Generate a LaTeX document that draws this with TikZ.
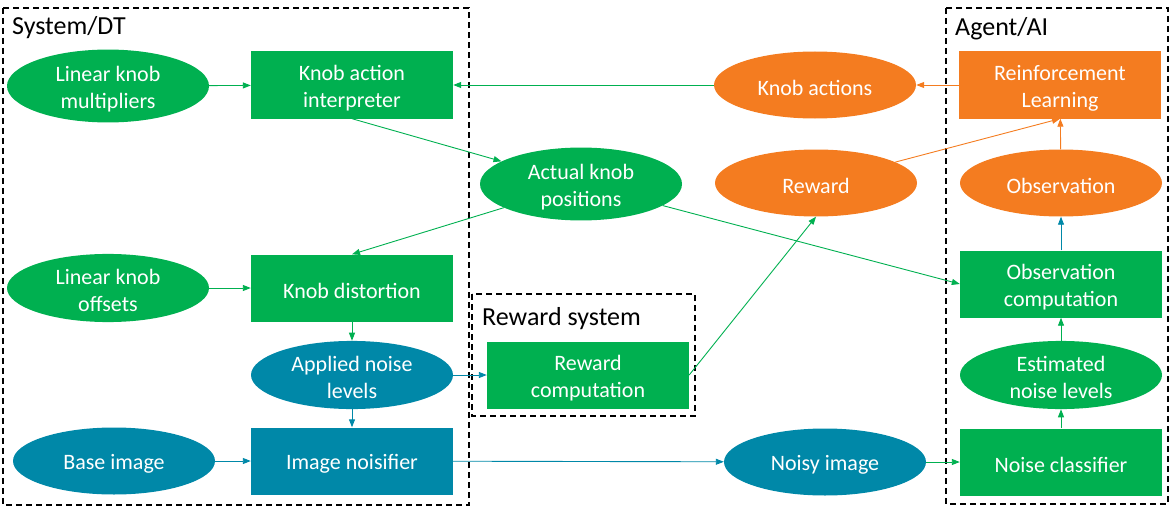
\documentclass[tikz,border=0pt]{standalone}
\usepackage{fontspec}
\setmainfont{Carlito}
\usetikzlibrary{shapes.geometric,arrows.meta}
\definecolor{cgreen}{RGB}{0,176,80}
\definecolor{corange}{RGB}{244,124,32}
\definecolor{cteal}{RGB}{0,136,168}
\newcommand\tupstrut{\rule{0pt}{21pt}}
\tikzset{
  base/.style={inner sep=0pt, text=white, align=center, font=\fontsize{22}{27}\selectfont, minimum width=202pt, minimum height=67pt},
  ell/.style={base, ellipse},
  box/.style={base, rectangle},
  gfill/.style={fill=cgreen},
  ofill/.style={fill=corange},
  tfill/.style={fill=cteal},
  conn/.style={line width=0.9pt, -{Triangle[length=8pt,width=6pt]}},
  gline/.style={conn, draw=cgreen},
  oline/.style={conn, draw=corange},
  tline/.style={conn, draw=cteal},
  group/.style={draw=black, line width=1.6pt, dash pattern=on 6pt off 4pt},
  gtitle/.style={anchor=base west, inner sep=0pt, font=\fontsize{26}{30}\selectfont}
}
\begin{document}
\begin{tikzpicture}[x=1pt,y=-1pt]
\useasboundingbox (0,0) rectangle (1175,511);
% group boxes
\draw[group] (3,8) rectangle (469,505);
\draw[group] (946,8) rectangle (1168,504);
\draw[group] (472,294) rectangle (695,416);
\node[gtitle] (tsys) at (12,35) {System/DT};
\node[gtitle] (tag) at (955,36) {Agent/AI};
\node[gtitle] (trew) at (482,325) {Reward system};
% nodes
\node[ell,gfill] (lkm) at (108,86) {\tupstrut Linear knob\\multipliers};
\node[box,gfill] (kai) at (352,85) {\tupstrut Knob action\\interpreter};
\node[ell,ofill] (ka) at (815,85) {\tupstrut Knob actions};
\node[box,ofill] (rl) at (1060,85) {\tupstrut Reinforcement\\Learning};
\node[ell,gfill] (akp) at (581,184) {\tupstrut Actual knob\\positions};
\node[ell,ofill] (rew) at (816,183) {\tupstrut Reward};
\node[ell,ofill] (obs) at (1061,183) {\tupstrut Observation};
\node[ell,gfill] (lko) at (108,288) {\tupstrut Linear knob\\offsets};
\node[box,gfill] (kd) at (352,288) {\tupstrut Knob distortion};
\node[box,gfill] (oc) at (1061,284) {\tupstrut Observation\\computation};
\node[ell,tfill] (anl) at (352,375) {\tupstrut Applied noise\\levels};
\node[box,gfill] (rc) at (588,375) {\tupstrut Reward\\computation};
\node[ell,gfill] (enl) at (1061,375) {\tupstrut Estimated\\noise levels};
\node[ell,tfill] (bi) at (114,461) {\tupstrut Base image};
\node[box,tfill] (ino) at (352,461) {\tupstrut Image noisifier};
\node[ell,tfill] (ni) at (825,462) {\tupstrut Noisy image};
\node[box,gfill] (nc) at (1061,462) {\tupstrut Noise classifier};
% connectors
\draw[gline] (lkm) -- (kai);
\draw[gline] (ka) -- (kai);
\draw[oline] (rl) -- (ka);
\draw[gline] (kai.south) -- (akp);
\draw[gline] (akp) -- (kd.north);
\draw[gline] (akp) -- (oc.west);
\draw[gline] (lko) -- (kd);
\draw[gline] (kd) -- (anl);
\draw[tline] (anl) -- (ino);
\draw[tline] (anl) -- (rc);
\draw[gline] (rc.east) -- (rew.south);
\draw[oline] (rew) -- (rl.south);
\draw[oline] (obs) -- (rl);
\draw[tline] (oc) -- (obs);
\draw[gline] (enl) -- (oc);
\draw[gline] (nc) -- (enl);
\draw[gline] (ni) -- (nc);
\draw[tline] (ino) -- (ni);
\draw[tline] (bi) -- (ino);
\end{tikzpicture}
\end{document}
